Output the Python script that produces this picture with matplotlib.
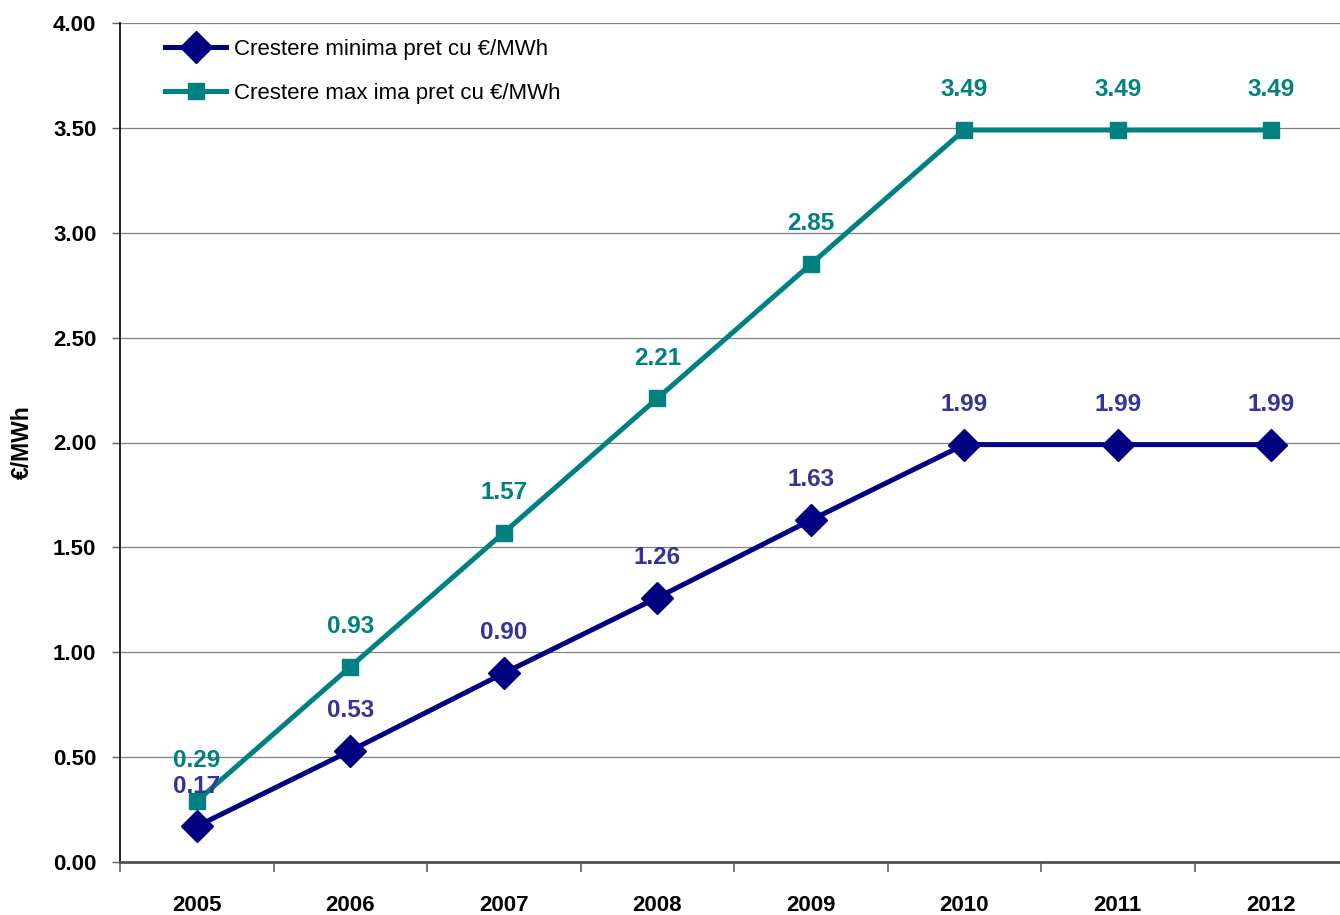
import numpy as np
import matplotlib.pyplot as plt
from matplotlib.ticker import FixedLocator

years = ['2005', '2006', '2007', '2008', '2009', '2010', '2011', '2012']
crestere_min = [0.17, 0.53, 0.90, 1.26, 1.63, 1.99, 1.99, 1.99]
crestere_max = [0.29, 0.93, 1.57, 2.21, 2.85, 3.49, 3.49, 3.49]
yticks = [0.0, 0.5, 1.0, 1.5, 2.0, 2.5, 3.0, 3.5, 4.0]

plt.rcParams['font.family'] = ['Liberation Sans', 'DejaVu Sans']
narrow = ['Liberation Sans Narrow', 'Liberation Sans', 'DejaVu Sans']

fig = plt.figure(figsize=(13.4, 9.15), dpi=100)
ax = fig.add_axes([120 / 1340, 1 - 862 / 915, 1228 / 1340, 839 / 915])

x = np.arange(len(years))
ax.plot(x, crestere_min, color='#000080', lw=3.6, marker='D', ms=16,
        label='Crestere minima pret cu €/MWh', zorder=4)
ax.plot(x, crestere_max, color='#008080', lw=3.6, marker='s', ms=11,
        label='Crestere max ima pret cu €/MWh', zorder=3)

for xi, v in zip(x, crestere_min):
    ax.annotate(f'{v:.2f}', (xi, v), xytext=(0, 29), textcoords='offset points',
                ha='center', va='center', fontsize=17.5, fontweight='bold', color='#333399', zorder=5)
for xi, v in zip(x, crestere_max):
    ax.annotate(f'{v:.2f}', (xi, v), xytext=(0, 29), textcoords='offset points',
                ha='center', va='center', fontsize=17.5, fontweight='bold', color='#008080', zorder=5)

ax.set_xlim(-0.5, len(years) - 0.5)
ax.set_ylim(0, 4)
ax.set_yticks(yticks)
ax.set_yticklabels([f'{t:.2f}' for t in yticks], fontsize=16, fontweight='bold')
ax.yaxis.grid(True, color='#808080', lw=0.9)
ax.set_axisbelow(True)

ax.xaxis.set_major_locator(FixedLocator(np.arange(-0.5, len(years), 1.0)))
ax.xaxis.set_major_formatter(plt.NullFormatter())
ax.xaxis.set_minor_locator(FixedLocator(x))
ax.set_xticklabels(years, minor=True, fontsize=16, fontweight='bold', family=narrow)
ax.tick_params(axis='x', which='major', length=7, width=1.2, color='#606060', direction='out')
ax.tick_params(axis='x', which='minor', length=0, pad=24)
ax.tick_params(axis='y', length=6, width=1, color='#606060', pad=11)

for s in ['top', 'right']:
    ax.spines[s].set_visible(False)
ax.spines['left'].set_color('black')
ax.spines['left'].set_linewidth(1.2)
ax.spines['bottom'].set_color('#505050')
ax.spines['bottom'].set_linewidth(2)

ax.set_ylabel('€/MWh', fontsize=16.5, fontweight='bold', labelpad=14)

leg = ax.legend(loc='upper left', bbox_to_anchor=(0.024, 1.0), frameon=True, fancybox=False,
                edgecolor='white', framealpha=1, fontsize=16, handlelength=2.75,
                handletextpad=0.35, labelspacing=1.05, borderpad=0.2)
leg.set_zorder(6)
for t in leg.get_texts():
    t.set_family(narrow)

fig.savefig('out.png', dpi=100)
